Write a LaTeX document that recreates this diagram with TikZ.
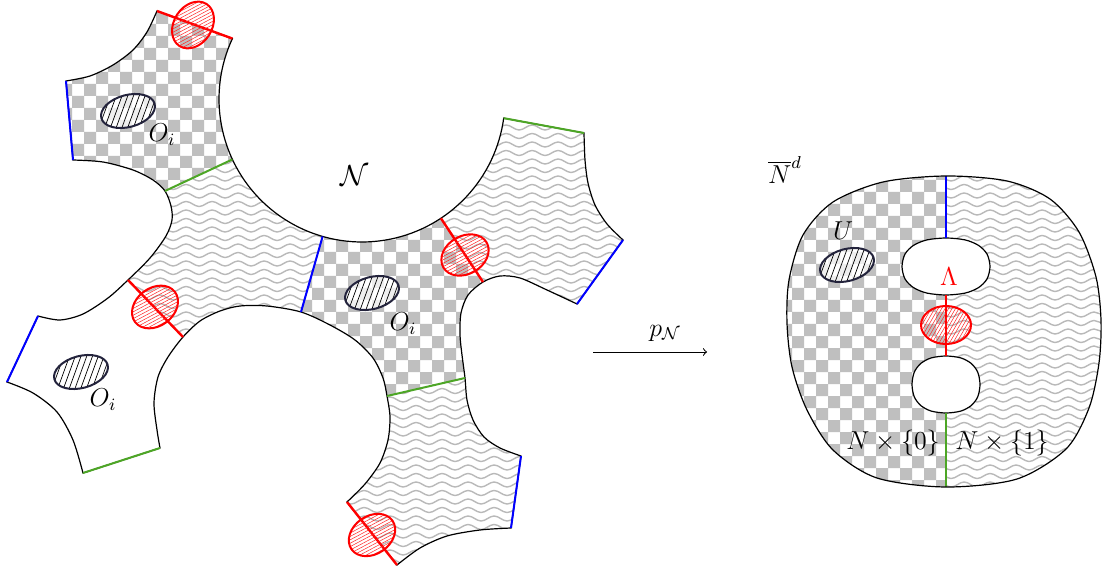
\documentclass[tikz,border=0pt]{standalone}
\usetikzlibrary{decorations.pathmorphing}
\definecolor{edgegreen}{RGB}{77,166,38}
\definecolor{darkring}{RGB}{35,35,60}
\tikzset{
  outline/.style={draw=black, line width=0.6pt},
  blueedge/.style={draw=blue, line width=1pt},
  greenedge/.style={draw=edgegreen, line width=1pt},
  rededge/.style={draw=red, line width=1.2pt},
  waveline/.style={draw=gray!55, line width=0.7pt, decorate, decoration={snake, amplitude=1.25pt, segment length=13pt}},
  lbl/.style={inner sep=0pt, scale=1.08}
}
\def\leftoutline{(66,81) -- plot[smooth] coordinates {(73,160) (103,162) (133,170) (153,180) (165,191) (171,206) (172,220) (166,236) (150,258) (128,280) (108,298) (83,314) (60,320) (38,316)}
 -- plot[smooth] coordinates {(7,382) (33,393) (57,412) (73,440) (83,473)}
 -- plot[smooth] coordinates {(160,448) (157,430) (154,403) (158,377) (168,357) (183,337) (200,321) (220,311) (240,306) (267,306) (301,312) (330,325) (355,340) (373,358) (383,378) (387,396) (390,417) (388,440) (380,463) (365,484) (347,502)}
 -- plot[smooth] coordinates {(397,565) (420,548) (447,536) (480,530) (511,528)}
 -- plot[smooth] coordinates {(521,456) (500,448) (484,437) (473,420) (467,400) (465,378) (462,355) (460,335) (461,313) (468,295) (483,282) (500,276) (520,278) (547,290) (577,304)}
 -- plot[smooth] coordinates {(623,240) (607,224) (595,205) (588,183) (585,160) (584,133)}
 -- plot[domain=7.7:205, samples=90, variable=\t] ({362+143*cos(\t)},{99+143*sin(\t)})
 -- plot[smooth] coordinates {(157,11) (147,32) (133,50) (113,65) (90,76) (66,81)} -- cycle}
\def\blob{plot[smooth cycle] coordinates {(946,176) (1007,181) (1050,199) (1079,232) (1096,277) (1101,320) (1099,363) (1089,408) (1066,449) (1017,479) (946,487) (877,478) (833,450) (807,410) (792,367) (787,323) (789,280) (803,235) (833,202) (883,182)}}
\def\superell{plot[smooth cycle] coordinates {(1,0) (0.933,0.434) (0.74,0.74) (0.434,0.933) (0,1) (-0.434,0.933) (-0.74,0.74) (-0.933,0.434) (-1,0) (-0.933,-0.434) (-0.74,-0.74) (-0.434,-0.933) (0,-1) (0.434,-0.933) (0.74,-0.74) (0.933,-0.434)}}
% checkerboard: columns pairs c0..c1 (24 px each), rows r0..r1 (12 px each)
\newcommand\checkers[4]{%
  \fill[gray!50] \foreach \r [evaluate=\r as \off using {int(mod(\r,2))}] in {#2,...,#4} {
    \foreach \c in {#1,...,#3} { (24*\c+12*\off,12*\r) rectangle ++(12,12) } };}
% wavy lines from x0 to x1, rows k0..k1 (8.5 px apart)
\newcommand\wavelines[4]{%
  \foreach \k in {#3,...,#4} { \draw[waveline] (#1,8.5*\k) -- (#2,8.5*\k); }}
% dark hatched ellipse
\newcommand\darkell[1]{%
  \begin{scope}[shift={#1}, rotate=15]
    \fill[white, fill opacity=0.75] (0,0) ellipse[x radius=13.8pt, y radius=8pt];
    \begin{scope}
      \clip (0,0) ellipse[x radius=13.8pt, y radius=8pt];
      \begin{scope}[rotate=55]
        \foreach \k in {-7,...,7} { \draw[black, line width=0.35pt] (-20pt,\k*2.7pt) -- (20pt,\k*2.7pt); }
      \end{scope}
    \end{scope}
    \draw[darkring, line width=1pt] (0,0) ellipse[x radius=13.8pt, y radius=8pt];
  \end{scope}}
% red hatched ellipse: centre, rotation, screen hatch angle
\newcommand\redell[3]{%
  \begin{scope}[shift={#1}]
    \begin{scope}
      \clip[rotate=#2] (0,0) ellipse[x radius=12.5pt, y radius=9.5pt];
      \begin{scope}[rotate=#3]
        \foreach \k in {-10,...,10} { \draw[red!85, line width=0.25pt] (-20pt,\k*1.5pt) -- (20pt,\k*1.5pt); }
      \end{scope}
    \end{scope}
    \draw[red, line width=1pt, rotate=#2] (0,0) ellipse[x radius=12.5pt, y radius=9.5pt];
  \end{scope}}
\begin{document}
\begin{tikzpicture}[x=0.5pt, y=-0.5pt, font=\fontsize{12}{14}\selectfont]
\useasboundingbox (0,0) rectangle (1103,572);
% ---------- left figure ----------
\fill[white] \leftoutline;
\begin{scope}
  \clip \leftoutline;
  \begin{scope}
    \clip (0,0) -- (273,0) -- (273,140.4) -- (124.6,210) -- (0,210) -- cycle;
    \checkers{2}{0}{10}{18}
  \end{scope}
  \begin{scope}
    \clip (124.6,210) -- (273,140.4) -- (329,214) -- (294.5,334.7) -- (199.5,354) -- (111.5,263) -- cycle;
    \wavelines{100}{350}{15}{43}
  \end{scope}
  \begin{scope}
    \clip (329,214) -- (428.3,199) -- (495.6,301) -- (488.4,372.6) -- (363.6,401.4) -- (294.5,334.7) -- cycle;
    \checkers{12}{16}{20}{34}
  \end{scope}
  \begin{scope}
    \clip (428.3,0) -- (428.3,199) -- (495.6,301) -- (530,330) -- (700,330) -- (700,0) -- cycle;
    \wavelines{420}{650}{12}{38}
  \end{scope}
  \begin{scope}
    \clip (363.6,401.4) -- (488.4,372.6) -- (600,372.6) -- (600,600) -- (300,600) -- (300,401.4) -- cycle;
    \wavelines{330}{560}{42}{68}
  \end{scope}
\end{scope}
\darkell{(128,111)}
\darkell{(372,293)}
\darkell{(81,372)}
\draw[outline] \leftoutline;
% edge coordinates
\coordinate (b1a) at (66,81);   \coordinate (b1b) at (73,160);
\coordinate (b2a) at (38,316);  \coordinate (b2b) at (7,382);
\coordinate (b3a) at ({362+143*cos(106)},{99+143*sin(106)}); \coordinate (b3b) at (301,312);
\coordinate (b4a) at (511,528); \coordinate (b4b) at (521,456);
\coordinate (b5a) at (577,304); \coordinate (b5b) at (623,240);
\coordinate (g1a) at (165,191); \coordinate (g1b) at ({362+143*cos(155)},{99+143*sin(155)});
\coordinate (g2a) at (83,473);  \coordinate (g2b) at (160,448);
\coordinate (g3a) at (387,396); \coordinate (g3b) at (465,378);
\coordinate (g4a) at ({362+143*cos(7.7)},{99+143*sin(7.7)}); \coordinate (g4b) at (584,133);
\coordinate (r1a) at (157,11);  \coordinate (r1b) at ({362+143*cos(205)},{99+143*sin(205)});
\coordinate (r2a) at (128,280); \coordinate (r2b) at (183,337);
\coordinate (r3a) at ({362+143*cos(56.5)},{99+143*sin(56.5)}); \coordinate (r3b) at (483,282);
\coordinate (r4a) at (347,502); \coordinate (r4b) at (397,565);
\draw[blueedge] (b1a) -- (b1b);
\draw[blueedge] (b2a) -- (b2b);
\draw[blueedge] (b3a) -- (b3b);
\draw[blueedge] (b4a) -- (b4b);
\draw[blueedge] (b5a) -- (b5b);
\draw[greenedge] (g1a) -- (g1b);
\draw[greenedge] (g2a) -- (g2b);
\draw[greenedge] (g3a) -- (g3b);
\draw[greenedge] (g4a) -- (g4b);
\draw[rededge] (r1a) -- (r1b);
\draw[rededge] (r2a) -- (r2b);
\draw[rededge] (r3a) -- (r3b);
\draw[rededge] (r4a) -- (r4b);
\redell{(193,25)}{57}{28}
\redell{(155,307)}{37}{28}
\redell{(465,255)}{30}{28}
\redell{(372,535)}{35}{28}
\node[lbl, scale=1.12] (calN) at (355,176) {$\mathcal{N}$};
\node[lbl] (o1) at (162,135) {$O_i$};
\node[lbl] (o2) at (403,324) {$O_i$};
\node[lbl] (o3) at (103,400) {$O_i$};
% ---------- arrow ----------
\coordinate (arrA) at (593,352);
\coordinate (arrB) at (707,352);
\draw[->, line width=0.5pt] (arrA) -- (arrB);
\node[lbl] (pN) at (665,333) {$p_{\mathcal{N}}$};
% ---------- right figure ----------
\fill[white] \blob;
\begin{scope}
  \clip \blob;
  \begin{scope}
    \clip (780,170) rectangle (946,495);
    \checkers{32}{14}{39}{41}
  \end{scope}
  \begin{scope}
    \clip (946,170) rectangle (1103,495);
    \wavelines{930}{1110}{20}{58}
  \end{scope}
\end{scope}
\filldraw[fill=white, outline, shift={(946,266.5)}, xscale=44, yscale=28.5] \superell;
\filldraw[fill=white, outline, shift={(946,384.5)}, xscale=34, yscale=28.5] \superell;
\coordinate (vtop) at (946,176); \coordinate (h1t) at (946,238);
\coordinate (h1b) at (946,295);  \coordinate (h2t) at (946,356);
\coordinate (h2b) at (946,413);  \coordinate (vbot) at (946,487);
\draw[blueedge] (vtop) -- (h1t);
\draw[rededge] (h1b) -- (h2t);
\draw[greenedge] (h2b) -- (vbot);
\draw[outline] \blob;
\darkell{(847,265)}
\redell{(946,325)}{0}{60}
\node[lbl] (nbar) at (785,170) {$\overline{N}^d$};
\node[lbl] (uu) at (843,231) {$U$};
\node[lbl, text=red] (lam) at (949,277) {$\Lambda$};
\node[lbl] (n0) at (893,443) {$N\times\{0\}$};
\node[lbl] (n1) at (1002,443) {$N\times\{1\}$};
\end{tikzpicture}
\end{document}
